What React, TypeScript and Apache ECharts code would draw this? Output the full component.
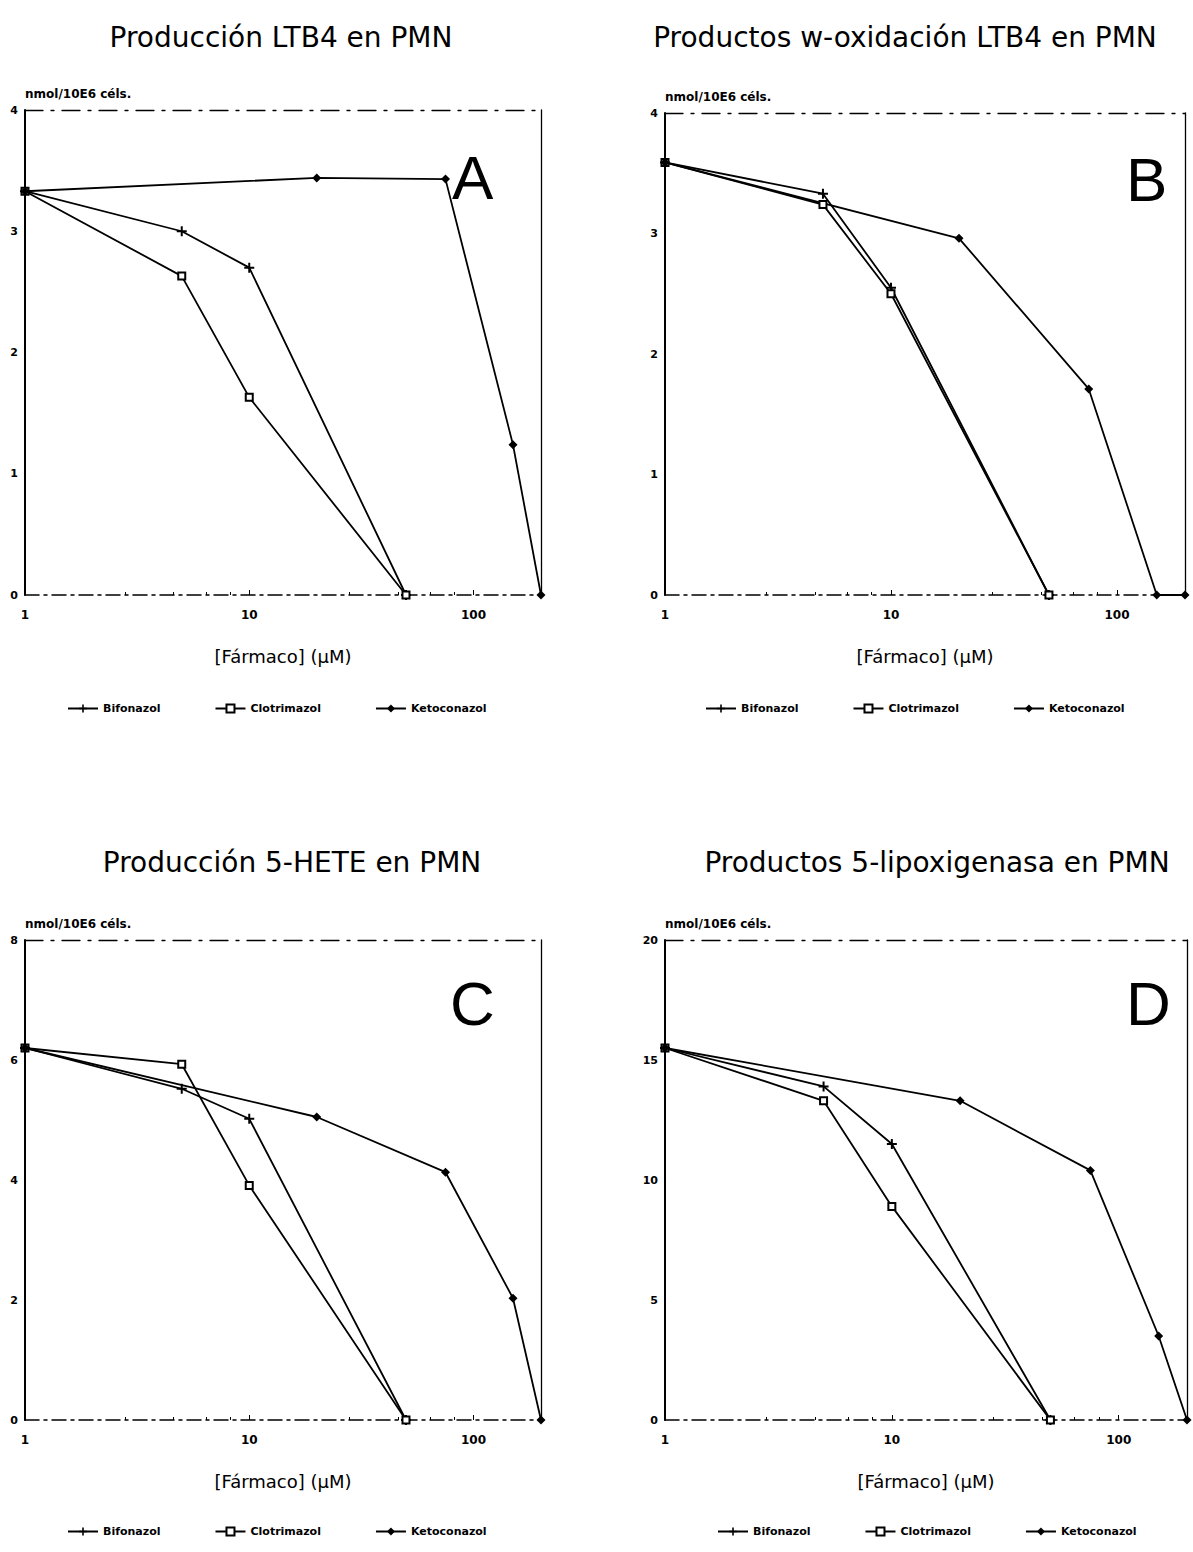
import React, { useEffect, useRef } from "react";
import * as echarts from "echarts";

// ---- data ----
const panelTitles = [
  "Producción LTB4 en PMN",
  "Productos w-oxidación LTB4 en PMN",
  "Producción 5-HETE en PMN",
  "Productos 5-lipoxigenasa en PMN",
];
const panelLetters = ["A", "B", "C", "D"];
const seriesNames = ["Bifonazol", "Clotrimazol", "Ketoconazol"];
const yUnit = "nmol/10E6 céls.";
const xTitle = "[Fármaco] (µM)";
const xTickLabels = ["1", "10", "100"];

const azoleDoses = [1, 5, 10, 50];
const ketoDoses = [1, 20, 75, 150, 200];

const yMax = [4, 4, 8, 20];
const yStep = [1, 1, 2, 5];

const bifonazolA = [3.33, 3.0, 2.7, 0];
const clotrimazolA = [3.33, 2.63, 1.63, 0];
const ketoconazolA = [3.33, 3.44, 3.43, 1.24, 0];

const bifonazolB = [3.59, 3.33, 2.55, 0];
const clotrimazolB = [3.59, 3.24, 2.5, 0];
const ketoconazolB = [3.59, 2.96, 1.71, 0, 0];

const bifonazolC = [6.2, 5.52, 5.02, 0];
const clotrimazolC = [6.2, 5.93, 3.91, 0];
const ketoconazolC = [6.2, 5.05, 4.13, 2.03, 0];

const bifonazolD = [15.5, 13.9, 11.5, 0];
const clotrimazolD = [15.5, 13.3, 8.9, 0];
const ketoconazolD = [15.5, 13.3, 10.4, 3.5, 0];

const panelValues = [
  [bifonazolA, clotrimazolA, ketoconazolA],
  [bifonazolB, clotrimazolB, ketoconazolB],
  [bifonazolC, clotrimazolC, ketoconazolC],
  [bifonazolD, clotrimazolD, ketoconazolD],
];

// ---- layout ----
const grids = [
  { left: 25, top: 110, width: 516, height: 485 },
  { left: 665, top: 113, width: 520, height: 482 },
  { left: 25, top: 940, width: 516, height: 480 },
  { left: 665, top: 940, width: 522, height: 480 },
];
const titlePos = [
  { x: 276, y: 18 },
  { x: 900, y: 18 },
  { x: 287, y: 843 },
  { x: 932, y: 843 },
];
const letterPos = [
  { x: 472, y: 176 },
  { x: 1146, y: 178 },
  { x: 470, y: 1002 },
  { x: 1146, y: 1002 },
];
const legendPos = [
  { left: 62, top: 698 },
  { left: 700, top: 698 },
  { left: 62, top: 1521 },
  { left: 712, top: 1521 },
];

const plusSymbol = "path://M4,0H6V4H10V6H6V10H4V6H0V4H4Z";
const symbols = [plusSymbol, "emptyRect", "diamond"];
const symbolSizes = [10, 7, 9];
const BFONT = "'DejaVu Sans', sans-serif";
const TFONT = "'DejaVu Sans', sans-serif";

function buildOption() {
  const xAxis: any[] = [];
  const yAxis: any[] = [];
  const series: any[] = [];
  const title: any[] = [];
  const legend: any[] = [];
  const graphic: any[] = [];

  grids.forEach((g, i) => {
    // bottom x axis
    xAxis.push({
      type: "log",
      logBase: 10,
      min: 1,
      max: 200,
      gridIndex: i,
      position: "bottom",
      axisLine: { show: true, onZero: false, lineStyle: { color: "#000", width: 1.5, type: [14, 5, 3, 5] } },
      axisTick: { show: true, inside: true, length: 5, lineStyle: { color: "#000" } },
      minorTick: { show: true, splitNumber: 5, length: 3, lineStyle: { color: "#000" } },
      splitLine: { show: false },
      axisLabel: {
        color: "#000",
        fontFamily: BFONT,
        fontWeight: "bold",
        fontSize: 12,
        margin: 14,
        formatter: (v: number) => {
          const k = Math.round(Math.log10(v));
          return Math.abs(Math.log10(v) - k) < 1e-6 && xTickLabels[k] ? xTickLabels[k] : "";
        },
      },
      name: xTitle,
      nameLocation: "middle",
      nameGap: 52,
      nameTextStyle: { color: "#000", fontFamily: TFONT, fontSize: 18 },
    });
    // top border (dashed)
    xAxis.push({
      type: "log",
      logBase: 10,
      min: 1,
      max: 200,
      gridIndex: i,
      position: "top",
      axisLine: { show: true, onZero: false, lineStyle: { color: "#000", width: 1.3, type: [18, 8, 3, 8] } },
      axisTick: { show: false },
      minorTick: { show: false },
      axisLabel: { show: false },
      splitLine: { show: false },
    });
    // left y axis
    yAxis.push({
      type: "value",
      min: 0,
      max: yMax[i],
      interval: yStep[i],
      gridIndex: i,
      position: "left",
      axisLine: { show: true, onZero: false, lineStyle: { color: "#000", width: 2 } },
      axisTick: { show: false },
      splitLine: { show: false },
      axisLabel: {
        color: "#000",
        fontFamily: BFONT,
        fontWeight: "bold",
        fontSize: 11,
        margin: 7,
      },
      name: yUnit,
      nameLocation: "end",
      nameGap: 10,
      nameTextStyle: {
        color: "#000",
        fontFamily: BFONT,
        fontWeight: "bold",
        fontSize: 12,
        align: "left",
      },
    });
    // right border
    yAxis.push({
      type: "value",
      min: 0,
      max: yMax[i],
      interval: yStep[i],
      gridIndex: i,
      position: "right",
      axisLine: { show: true, onZero: false, lineStyle: { color: "#000", width: 1.3 } },
      axisTick: { show: false },
      axisLabel: { show: false },
      splitLine: { show: false },
    });

    seriesNames.forEach((name, s) => {
      const doses = s === 2 ? ketoDoses : azoleDoses;
      const vals = panelValues[i][s];
      series.push({
        type: "line",
        name,
        xAxisIndex: i * 2,
        yAxisIndex: i * 2,
        data: doses.map((d, k) => [d, vals[k]]),
        symbol: symbols[s],
        symbolSize: symbolSizes[s],
        showAllSymbol: true,
        clip: false,
        lineStyle: { color: "#000", width: 1.8 },
        itemStyle: { color: "#000", borderColor: "#000", borderWidth: s === 1 ? 1.5 : 0 },
        emphasis: { disabled: true },
      });
    });

    title.push({
      text: panelTitles[i],
      left: titlePos[i].x,
      top: titlePos[i].y,
      textAlign: "center",
      textStyle: { color: "#000", fontFamily: TFONT, fontWeight: "normal", fontSize: 28 },
    });

    legend.push({
      data: seriesNames,
      left: legendPos[i].left,
      top: legendPos[i].top,
      itemGap: 54,
      itemWidth: 30,
      itemHeight: 10,
      textStyle: { color: "#000", fontFamily: BFONT, fontWeight: "bold", fontSize: 11 },
      selectedMode: false,
    });

    graphic.push({
      type: "text",
      left: letterPos[i].x - 20,
      top: letterPos[i].y - 30,
      style: {
        text: panelLetters[i],
        fill: "#000",
        font: "normal 62px 'Liberation Sans', Arial, sans-serif",
      },
    });
  });

  return {
    animation: false,
    backgroundColor: "#fff",
    title,
    legend,
    grid: grids.map((g) => ({ ...g, containLabel: false })),
    xAxis,
    yAxis,
    series,
    graphic,
  };
}

export default function App() {
  const ref = useRef<HTMLDivElement>(null);
  useEffect(() => {
    if (!ref.current) return;
    const chart = echarts.init(ref.current, undefined, { renderer: "svg" });
    chart.setOption(buildOption() as any);
    return () => chart.dispose();
  }, []);
  return (
    <div
      ref={ref}
      style={{ position: "absolute", left: 0, top: 0, width: 1193, height: 1552, background: "#fff" }}
    />
  );
}
